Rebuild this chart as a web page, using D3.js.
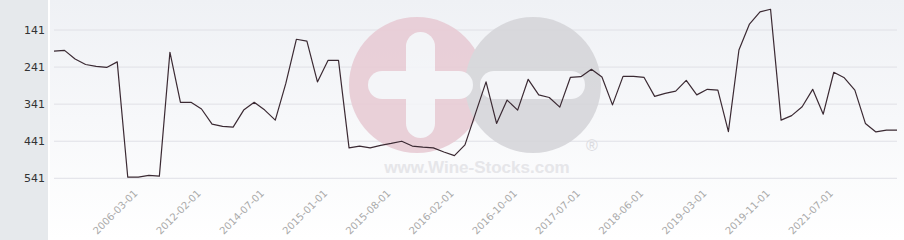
<!DOCTYPE html>
<html>
<head>
<meta charset="utf-8">
<script src="https://cdn.jsdelivr.net/npm/d3@7"></script>
<style>
  body { margin: 0; background: #fff; }
  .y-label { font-family: "DejaVu Sans", sans-serif; font-size: 11px; fill: #333; }
  .x-label { font-family: "DejaVu Sans", sans-serif; font-size: 10px; fill: #aaa; }
</style>
</head>
<body>
<div id="chart"></div>
<script>
// rank values (lower = better), one per monthly point
const ranks = [
  198, 196, 219, 234, 239, 242, 227, 538, 538, 533,
  535, 201, 336, 336, 354, 395, 401, 403, 357, 336,
  357, 384, 285, 166, 171, 281, 223, 223, 459, 454,
  459, 452, 447, 441, 454, 457, 459, 470, 480, 451,
  366, 281, 393, 330, 357, 274, 316, 323, 349, 269,
  267, 247, 268, 343, 266, 266, 269, 320, 312, 306,
  277, 316, 301, 303, 415, 195, 125, 92, 85, 384,
  372, 348, 301, 368, 255, 270, 303, 393, 416, 411,
  411
];
const xTickLabels = ['2006-03-01', '2012-02-01', '2014-07-01', '2015-01-01', '2015-08-01', '2016-02-01',
  '2016-10-01', '2017-07-01', '2018-06-01', '2019-03-01', '2019-11-01', '2021-07-01'];
const xTickIndex = [8, 14, 20, 26, 32, 38, 44, 50, 56, 62, 68, 74];
const yTicks = [141, 241, 341, 441, 541];

const width = 904, height = 240;
const plot = {left: 54, right: 897, top: 30, bottom: 178.3};

const svg = d3.select('#chart').append('svg')
    .attr('width', width)
    .attr('height', height);

// backgrounds
const grad = svg.append('defs').append('linearGradient')
    .attr('id', 'bg').attr('x1', 0).attr('y1', 0).attr('x2', 0).attr('y2', 1);
grad.append('stop').attr('offset', '0%').attr('stop-color', '#eff1f5');
grad.append('stop').attr('offset', '100%').attr('stop-color', '#ffffff');

svg.append('rect').attr('x', 0).attr('y', 0).attr('width', 48).attr('height', height).attr('fill', '#e6e9ec');
svg.append('rect').attr('x', 50).attr('y', 0).attr('width', width - 50).attr('height', height).attr('fill', 'url(#bg)');

const x = d3.scalePoint()
    .domain(d3.range(ranks.length))
    .range([plot.left, plot.right]);

const y = d3.scaleLinear()
    .domain([141, 541])
    .range([plot.top, plot.bottom]);

// grid lines
svg.append('g').selectAll('line')
  .data(yTicks)
  .join('line')
    .attr('x1', plot.left).attr('x2', plot.right)
    .attr('y1', d => y(d)).attr('y2', d => y(d))
    .attr('stroke', '#e0e0e6');

// watermark
const wm = svg.append('g').attr('opacity', 0.9);
wm.append('circle').attr('cx', 417).attr('cy', 85).attr('r', 68).attr('fill', '#e8ccd5');
wm.append('circle').attr('cx', 533).attr('cy', 85).attr('r', 68).attr('fill', '#d6d6da');
wm.append('rect').attr('x', 406).attr('y', 32).attr('width', 29).attr('height', 106).attr('rx', 14.5).attr('fill', '#f4f5f8');
wm.append('rect').attr('x', 368).attr('y', 71).attr('width', 105).attr('height', 28).attr('rx', 14).attr('fill', '#f4f5f8');
wm.append('rect').attr('x', 480).attr('y', 71).attr('width', 105).attr('height', 28).attr('rx', 14).attr('fill', '#f4f5f8');
wm.append('text')
    .attr('x', 477).attr('y', 173)
    .attr('text-anchor', 'middle')
    .style('font-family', '"Liberation Sans", Arial, sans-serif')
    .style('font-weight', 'bold')
    .style('font-size', '17px')
    .attr('fill', '#e4e4e8')
    .text('www.Wine-Stocks.com');
wm.append('text')
    .attr('x', 592).attr('y', 151)
    .attr('text-anchor', 'middle')
    .style('font-family', '"Liberation Sans", Arial, sans-serif')
    .style('font-size', '16px')
    .attr('fill', '#d8d8dc')
    .text('®');

// y labels
svg.append('g').selectAll('text')
  .data(yTicks)
  .join('text')
    .attr('class', 'y-label')
    .attr('x', 45)
    .attr('y', d => y(d))
    .attr('dy', '0.35em')
    .attr('text-anchor', 'end')
    .text(d => d);

// x labels
svg.append('g').selectAll('text')
  .data(xTickIndex)
  .join('text')
    .attr('class', 'x-label')
    .attr('text-anchor', 'end')
    .attr('transform', d => `translate(${x(d)},${194}) rotate(-45)`)
    .text((d, i) => xTickLabels[i]);

// line
const line = d3.line()
    .x((d, i) => x(i))
    .y(d => y(d));

svg.append('path')
    .datum(ranks)
    .attr('fill', 'none')
    .attr('stroke', '#3b2a33')
    .attr('stroke-width', 1.2)
    .attr('stroke-linejoin', 'round')
    .attr('d', line);
</script>
</body>
</html>
